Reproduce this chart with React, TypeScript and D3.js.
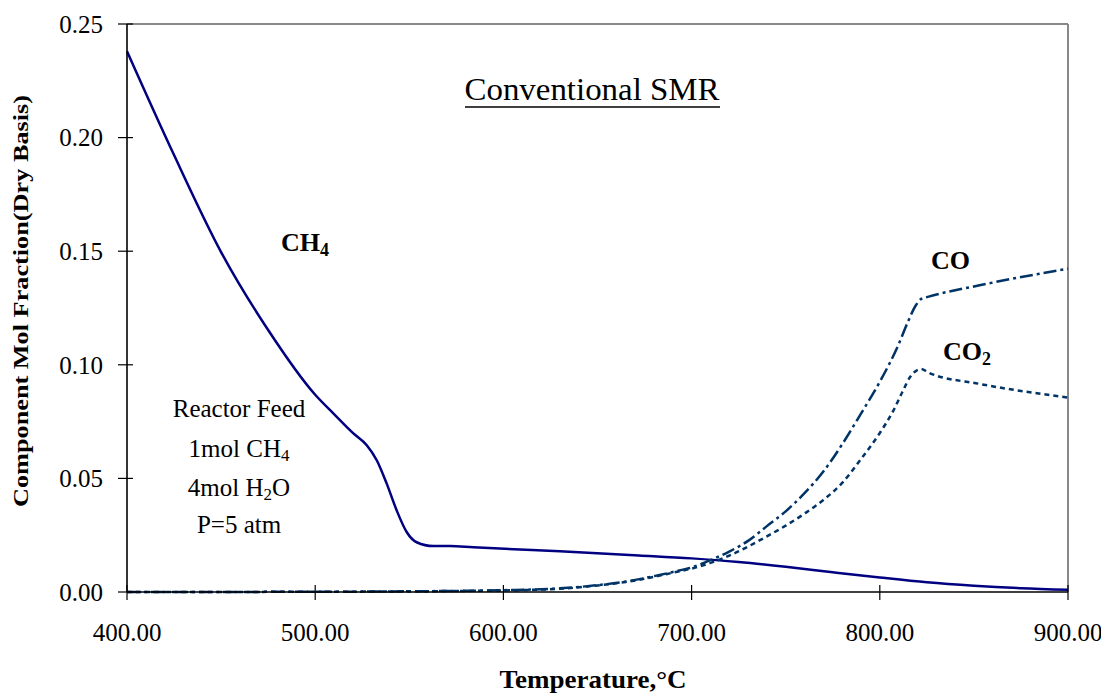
import React from "react";
import * as d3 from "d3";

const CH4_T = [400, 425, 450, 475, 500, 510, 520, 527.4, 532.7, 538, 543.3, 548.6, 553.9, 562.8, 571.6, 584, 598, 630, 672, 700, 725, 750, 775, 800, 825, 850, 875, 900];
const CH4_V = [0.2380, 0.1923, 0.1496, 0.1153, 0.0868, 0.0783, 0.0700, 0.0646, 0.0580, 0.0477, 0.0359, 0.0264, 0.0219, 0.0202, 0.0203, 0.0197, 0.0191, 0.0179, 0.0161, 0.0148, 0.0132, 0.0111, 0.0087, 0.0064, 0.0043, 0.0028, 0.0017, 0.0010];

const CO_T = [400, 500, 550, 600, 630, 650, 665, 683, 690, 700, 710, 720, 730, 740, 750, 760, 770, 780, 790, 800, 810, 815, 819, 822, 826, 853, 900];
const CO_V = [0, 0.0001, 0.0003, 0.0008, 0.0016, 0.0030, 0.0046, 0.0075, 0.0088, 0.0108, 0.0140, 0.0178, 0.0225, 0.0290, 0.0355, 0.0435, 0.0530, 0.0650, 0.0785, 0.0925, 0.1090, 0.1190, 0.1260, 0.1290, 0.1300, 0.1350, 0.1423];

const CO2_T = [400, 500, 550, 600, 630, 650, 665, 683, 690, 700, 710, 720, 730, 740, 750, 760, 770, 780, 790, 800, 807, 812, 816, 819, 822, 826, 853, 900];
const CO2_V = [0, 0.0001, 0.0003, 0.0007, 0.0014, 0.0029, 0.0044, 0.0072, 0.0085, 0.0103, 0.0128, 0.0160, 0.0200, 0.0245, 0.0292, 0.0345, 0.0405, 0.0480, 0.0585, 0.0700, 0.0795, 0.0880, 0.0945, 0.0972, 0.0982, 0.0965, 0.0916, 0.0856];

const X_TICKS = [400, 500, 600, 700, 800, 900];
const Y_TICKS = [0, 0.05, 0.1, 0.15, 0.2, 0.25];

const FONT = "Liberation Serif, Times New Roman, Times, serif";

export default function App() {
  const x = d3.scaleLinear().domain([400, 900]).range([127, 1068]);
  const y = d3.scaleLinear().domain([0, 0.25]).range([592, 24]);

  const mk = (T: number[], V: number[]) =>
    d3
      .line<number>()
      .x((_, i) => x(T[i]))
      .y((v) => y(v))
      .curve(d3.curveMonotoneX)(V) as string;

  return (
    <svg
      width={1101}
      height={696}
      style={{ position: "absolute", left: 0, top: 0, background: "#fff", fontFamily: FONT }}
    >
      <rect x={0} y={0} width={1101} height={696} fill="#fff" />
      {/* frame */}
      <line x1={x(400)} x2={x(900)} y1={y(0.25)} y2={y(0.25)} stroke="#888" strokeWidth={2} />
      <line x1={x(900)} x2={x(900)} y1={y(0.25)} y2={y(0)} stroke="#888" strokeWidth={2} />

      {/* series */}
      <path d={mk(CH4_T, CH4_V)} fill="none" stroke="#000080" strokeWidth={2.5} />
      <path d={mk(CO2_T, CO2_V)} fill="none" stroke="#003366" strokeWidth={2.5} strokeDasharray="5,4" />
      <path d={mk(CO_T, CO_V)} fill="none" stroke="#003366" strokeWidth={2.5} strokeDasharray="13,4,3,4" />

      {/* axes */}
      <line x1={x(400)} x2={x(400)} y1={y(0.25)} y2={y(0)} stroke="#000" strokeWidth={1.6} />
      <line x1={x(400)} x2={x(900)} y1={y(0)} y2={y(0)} stroke="#000" strokeWidth={1.6} />
      {Y_TICKS.map((t) => (
        <g key={"y" + t}>
          <line x1={x(400) - 9} x2={x(400) + 6} y1={y(t)} y2={y(t)} stroke="#000" strokeWidth={1.2} />
          <text x={103} y={y(t)} dy="0.35em" textAnchor="end" fontSize={25} fill="#000" style={{ fontFamily: FONT }}>
            {t.toFixed(2)}
          </text>
        </g>
      ))}
      {X_TICKS.map((t) => (
        <g key={"x" + t}>
          <line x1={x(t)} x2={x(t)} y1={y(0) - 7} y2={y(0) + 8} stroke="#000" strokeWidth={1.2} />
          <text x={x(t)} y={641} textAnchor="middle" fontSize={25} fill="#000" style={{ fontFamily: FONT }}>
            {t.toFixed(2)}
          </text>
        </g>
      ))}

      {/* axis titles */}
      <text x={593} y={688} textAnchor="middle" fontSize={25} fontWeight="bold" textLength={187} lengthAdjust="spacingAndGlyphs" style={{ fontFamily: FONT }}>
        Temperature,°C
      </text>
      <text
        transform="translate(28,301) rotate(-90)"
        textAnchor="middle"
        fontSize={22}
        fontWeight="bold"
        textLength={412}
        lengthAdjust="spacingAndGlyphs"
        style={{ fontFamily: FONT }}
      >
        Component Mol Fraction(Dry Basis)
      </text>

      {/* title */}
      <text x={592} y={100} textAnchor="middle" fontSize={32} textLength={255} lengthAdjust="spacingAndGlyphs" style={{ fontFamily: FONT }}>
        Conventional SMR
      </text>
      <line x1={465} x2={720} y1={107} y2={107} stroke="#000" strokeWidth={1.5} />

      {/* series labels */}
      <g style={{ fontFamily: FONT }} fontWeight="bold">
        <text x={281} y={251} fontSize={26}>
          CH<tspan fontSize={18} dy={5}>4</tspan>
        </text>
        <text x={931} y={269} fontSize={26}>
          CO
        </text>
        <text x={943} y={360} fontSize={26}>
          CO<tspan fontSize={18} dy={5}>2</tspan>
        </text>
      </g>

      {/* feed box */}
      <g fontSize={25} textAnchor="middle" style={{ fontFamily: FONT }}>
        <text x={239} y={417}>Reactor Feed</text>
        <text x={239} y={457}>
          1mol CH<tspan fontSize={17} dy={4}>4</tspan>
        </text>
        <text x={239} y={496}>
          4mol H<tspan fontSize={17} dy={4}>2</tspan>
          <tspan dy={-4}>O</tspan>
        </text>
        <text x={239} y={533}>P=5 atm</text>
      </g>
    </svg>
  );
}
